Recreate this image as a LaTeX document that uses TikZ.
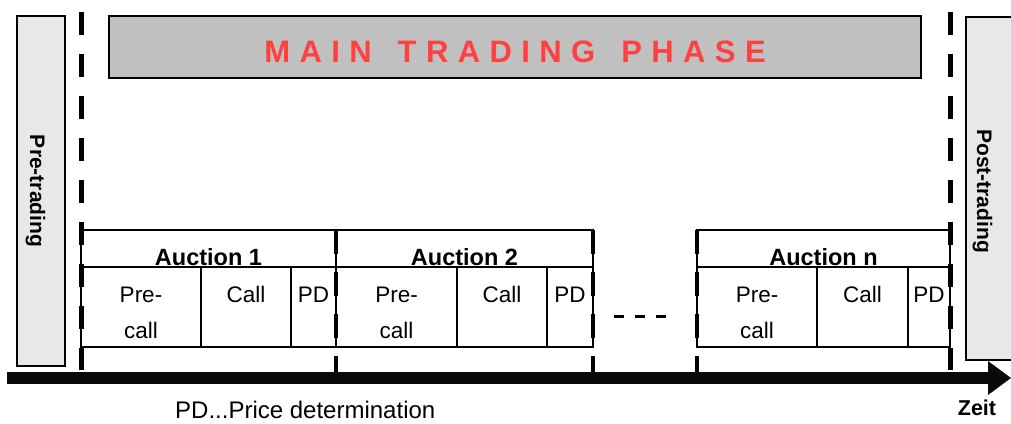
\documentclass[tikz,border=0pt]{standalone}
\usepackage{fontspec}
\setmainfont{Liberation Sans}
\newcommand{\lsp}{\hspace{9.4pt}}
\newcommand{\wsp}{\hspace{26pt}}
\definecolor{preg}{HTML}{E8E8E8}
\definecolor{maing}{HTML}{C0C0C0}
\definecolor{mainred}{HTML}{FF4040}
\definecolor{axisblack}{HTML}{0A0A0A}
\begin{document}
\begin{tikzpicture}[x=1pt,y=-1pt,
  frame/.style={draw=black,line width=2pt},
  cellline/.style={draw=black,line width=2pt},
  bigdash/.style={draw=black,line width=5pt,dash pattern=on 23pt off 19pt},
  smalldash/.style={draw=black,line width=4.5pt,dash pattern=on 24pt off 18pt},
  celltext/.style={font=\fontsize{22.5}{27}\selectfont,anchor=base,inner sep=0pt},
  headtext/.style={font=\bfseries\fontsize{23.5}{27}\selectfont,anchor=base,inner sep=0pt},
  sidetext/.style={font=\bfseries\fontsize{21}{25}\selectfont,rotate=-90,anchor=base,inner sep=0pt},
]
\useasboundingbox (0,0) rectangle (1011,423);
% side phases
\draw[frame,fill=preg] (17,16) rectangle (65,366);
\node[sidetext] (pretext) at (30,191) {Pre-trading};
\draw[frame,fill=preg] (966,17) rectangle (1020,360);
\node[sidetext] (posttext) at (977,191) {Post-trading};
% main phase
\draw[frame,fill=maing] (109,16) rectangle (921,78);
\node[font=\bfseries\fontsize{31}{35}\selectfont,text=mainred,anchor=base,inner sep=0pt] (maintext) at (515,62)
  {M\lsp A\lsp I\lsp N\wsp T\lsp R\lsp A\lsp D\lsp I\lsp N\lsp G\wsp P\lsp H\lsp A\lsp S\lsp E};
% auctions
\foreach \a/\b/\c/\d/\n in {81/201/291/336/1, 336/457/547/593/2, 697/817/908/950/n}{
  \draw[cellline] (\a,230) rectangle (\d,347);
  \draw[cellline] (\a,267) -- (\d,267) (\b,267) -- (\b,347) (\c,267) -- (\c,347);
  \node[headtext] (auc\n) at ({(\a+\d)/2},265) {Auction \n};
  \node[celltext] (pre\n) at ({(\a+\b)/2},302) {Pre-};
  \node[celltext] (prec\n) at ({(\a+\b)/2},338) {call};
  \node[celltext] (call\n) at ({(\b+\c)/2},302) {Call};
  \node[celltext] (pd\n) at ({(\c+\d)/2},302) {PD};
}
% dashed separators
\coordinate (lt) at (81,12); \coordinate (lb) at (81,370);
\coordinate (rt) at (950,12); \coordinate (rb) at (950,370);
\draw[bigdash] (lt) -- (lb);
\draw[bigdash] (rt) -- (rb);
\foreach \x in {336,593,697}{
  \coordinate (st\x) at (\x,230); \coordinate (sb\x) at (\x,373);
  \draw[smalldash] (st\x) -- (sb\x);
}
% ellipsis
\coordinate (ea) at (614,316); \coordinate (eb) at (666,316);
\draw[line width=3pt,dash pattern=on 10pt off 11pt] (ea) -- (eb);
% time axis
\coordinate (ts) at (7,378); \coordinate (te) at (990,378);
\draw[line width=12pt,draw=axisblack] (ts) -- (te);
\fill[axisblack] (988,361) -- (1011,378) -- (988,395) -- cycle;
% labels
\node[font=\fontsize{24}{28}\selectfont,anchor=base west,inner sep=0pt] (legend) at (175,418) {PD...Price determination};
\node[font=\bfseries\fontsize{21.5}{25}\selectfont,anchor=base,inner sep=0pt] (zeit) at (977,415) {Zeit};
\end{tikzpicture}
\end{document}
